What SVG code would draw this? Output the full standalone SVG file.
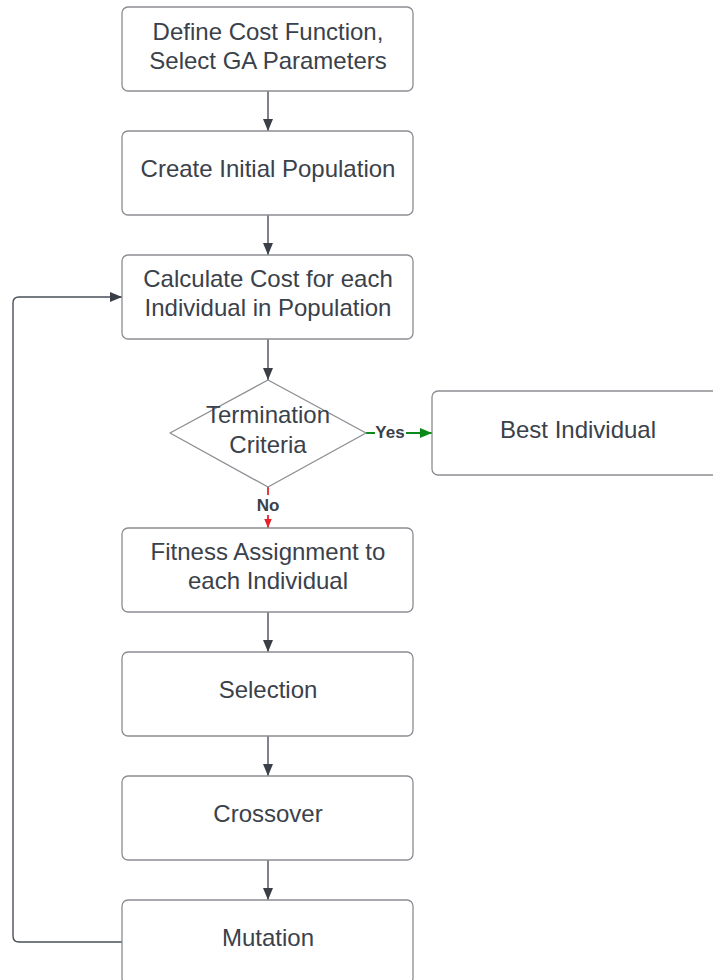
<svg xmlns="http://www.w3.org/2000/svg" width="713" height="980" viewBox="0 0 713 980">
  <style>
    .box { fill: #ffffff; stroke: #8a8d92; stroke-width: 1.3; }
    .lbl { font-family: "Liberation Sans", Arial, sans-serif; font-size: 24px; fill: #3a414a; text-anchor: middle; }
    .edge { fill: none; stroke: #4a4f58; stroke-width: 1.4; }
    .tag { font-family: "Liberation Sans", Arial, sans-serif; font-size: 17px; font-weight: bold; fill: #3a414a; text-anchor: middle; }
  </style>
  <defs>
    <marker id="arr" viewBox="0 0 12 10" refX="12" refY="5" markerWidth="12" markerHeight="10" markerUnits="userSpaceOnUse" orient="auto">
      <path d="M0,0 L12,5 L0,10 z" fill="#3a3f48"/>
    </marker>
    <marker id="arrG" viewBox="0 0 12 10" refX="12" refY="5" markerWidth="14" markerHeight="10" markerUnits="userSpaceOnUse" orient="auto">
      <path d="M0,0 L12,5 L0,10 z" fill="#0b8a1a"/>
    </marker>
    <marker id="arrR" viewBox="0 0 12 10" refX="12" refY="5" markerWidth="9" markerHeight="8" markerUnits="userSpaceOnUse" orient="auto">
      <path d="M0,0 L12,5 L0,10 z" fill="#e8222a"/>
    </marker>
  </defs>

  <rect width="713" height="980" fill="#ffffff"/>

  <g id="connectors">
    <path class="edge" d="M268,91 V131" marker-end="url(#arr)"/>
    <path class="edge" d="M268,215 V255" marker-end="url(#arr)"/>
    <path class="edge" d="M268,339 V380" marker-end="url(#arr)"/>
    <path class="edge" d="M268,612 V652" marker-end="url(#arr)"/>
    <path class="edge" d="M268,736 V776" marker-end="url(#arr)"/>
    <path class="edge" d="M268,860 V900" marker-end="url(#arr)"/>
    <path class="edge" d="M122,942 H19 Q13,942 13,936 V303 Q13,297 19,297 H122" marker-end="url(#arr)"/>
    <!-- yes branch -->
    <path d="M366,433 H432" fill="none" stroke="#0b8a1a" stroke-width="1.8" marker-end="url(#arrG)"/>
    <rect x="375" y="423" width="31" height="18" fill="#ffffff"/>
    <text class="tag" x="390" y="438">Yes</text>
    <!-- no branch -->
    <path d="M268,487 V528" fill="none" stroke="#e8222a" stroke-width="1.8" marker-end="url(#arrR)"/>
    <rect x="254" y="495" width="28" height="20" fill="#ffffff"/>
    <text class="tag" x="268" y="511">No</text>
  </g>

  <g id="define">
    <rect class="box" x="122" y="7" width="291" height="84" rx="6"/>
    <text class="lbl" x="268" y="40">Define Cost Function,</text>
    <text class="lbl" x="268" y="69">Select GA Parameters</text>
  </g>
  <g id="init-pop">
    <rect class="box" x="122" y="131" width="291" height="84" rx="6"/>
    <text class="lbl" x="268" y="177">Create Initial Population</text>
  </g>
  <g id="cost">
    <rect class="box" x="122" y="255" width="291" height="84" rx="6"/>
    <text class="lbl" x="268" y="287">Calculate Cost for each</text>
    <text class="lbl" x="268" y="316">Individual in Population</text>
  </g>
  <g id="termination">
    <path class="box" d="M268,380 L366,433 L268,487 L170,433 Z" stroke-linejoin="round"/>
    <text class="lbl" x="268" y="423">Termination</text>
    <text class="lbl" x="268" y="453">Criteria</text>
  </g>
  <g id="best">
    <rect class="box" x="432" y="391" width="291" height="84" rx="6"/>
    <text class="lbl" x="578" y="438">Best Individual</text>
  </g>
  <g id="fitness">
    <rect class="box" x="122" y="528" width="291" height="84" rx="6"/>
    <text class="lbl" x="268" y="560">Fitness Assignment to</text>
    <text class="lbl" x="268" y="589">each Individual</text>
  </g>
  <g id="selection">
    <rect class="box" x="122" y="652" width="291" height="84" rx="6"/>
    <text class="lbl" x="268" y="698">Selection</text>
  </g>
  <g id="crossover">
    <rect class="box" x="122" y="776" width="291" height="84" rx="6"/>
    <text class="lbl" x="268" y="822">Crossover</text>
  </g>
  <g id="mutation">
    <rect class="box" x="122" y="900" width="291" height="84" rx="6"/>
    <text class="lbl" x="268" y="946">Mutation</text>
  </g>
</svg>
